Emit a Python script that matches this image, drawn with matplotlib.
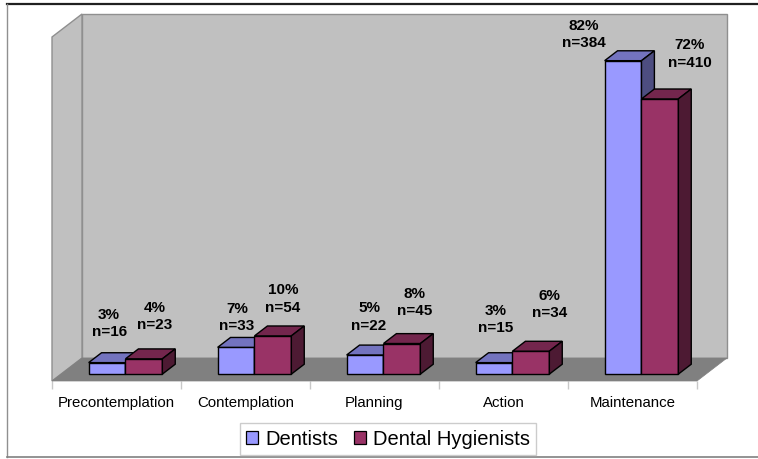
import matplotlib
matplotlib.use('Agg')
import matplotlib.pyplot as plt
from matplotlib.patches import Polygon
from matplotlib.lines import Line2D

# --- data ---
stages = ['Precontemplation', 'Contemplation', 'Planning', 'Action', 'Maintenance']
dentists_pct = [3, 7, 5, 3, 82]
dentists_n = [16, 33, 22, 15, 384]
hygienists_pct = [4, 10, 8, 6, 72]
hygienists_n = [23, 54, 45, 34, 410]

# label nudges in pixels: (right, up from bar top)
dent_nudge = [(2, 40), (1, 31), (4, 39), (2, 44), (-39, 27)]
hyg_nudge = [(11, 43), (10, 38), (13, 42), (19, 48), (30, 46)]

plt.rcParams['font.family'] = ['Liberation Sans', 'DejaVu Sans']

YMAX = 90
DX = 30 / 129.0          # depth shift in category units
DY = 23 / (344.0 / YMAX)  # depth shift in percent units
Z0, Z1 = 0.30, 0.73      # bar depth range (fraction of full depth)
BAR_W = 1 / 3.5          # gap width 150%
GAP = 0.75 * BAR_W

fig = plt.figure(figsize=(7.58, 4.60), dpi=100)
ax = fig.add_axes([52 / 758, 78 / 460, 645 / 758, 344 / 460])
ax.set_xlim(0, len(stages))
ax.set_ylim(0, YMAX)
ax.patch.set_visible(False)
for s in ax.spines.values():
    s.set_visible(False)
ax.yaxis.set_visible(False)

n = len(stages)
wall_kw = dict(closed=True, edgecolor='#8f8f8f', linewidth=1.0, clip_on=False)
# back wall, side wall, floor
ax.add_patch(Polygon([(DX, DY), (n + DX, DY), (n + DX, YMAX + DY), (DX, YMAX + DY)],
                     facecolor='#c0c0c0', zorder=1, **wall_kw))
ax.add_patch(Polygon([(0, 0), (DX, DY), (DX, YMAX + DY), (0, YMAX)],
                     facecolor='#c0c0c0', zorder=1, **wall_kw))
ax.add_patch(Polygon([(0, 0), (n, 0), (n + DX, DY), (DX, DY)],
                     closed=True, facecolor='#808080', edgecolor='#808080',
                     linewidth=0.5, clip_on=False, zorder=2))


def draw_bar(x0, v, front, top, side, z):
    ox0, oy0 = Z0 * DX, Z0 * DY
    ox1, oy1 = Z1 * DX, Z1 * DY
    x1 = x0 + BAR_W
    faces = [
        ([(x0 + ox0, oy0), (x1 + ox0, oy0), (x1 + ox0, v + oy0), (x0 + ox0, v + oy0)], front),
        ([(x0 + ox0, v + oy0), (x1 + ox0, v + oy0), (x1 + ox1, v + oy1), (x0 + ox1, v + oy1)], top),
        ([(x1 + ox0, oy0), (x1 + ox1, oy1), (x1 + ox1, v + oy1), (x1 + ox0, v + oy0)], side),
    ]
    for pts, c in faces:
        ax.add_patch(Polygon(pts, closed=True, facecolor=c, edgecolor='black',
                             linewidth=1.0, joinstyle='miter', clip_on=False, zorder=z))
    return x0 + ox0 + BAR_W / 2, v + oy0


def label(xc, yt, pct, cnt, nudge):
    ax.annotate(f'{pct}%\nn={cnt}', xy=(xc, yt), xytext=nudge,
                textcoords='offset pixels', ha='center', va='center',
                fontsize=11, fontweight='bold', linespacing=1.3,
                annotation_clip=False, zorder=20)


z = 3
for i in range(n):
    xc, yt = draw_bar(i + GAP, dentists_pct[i], '#9999ff', '#7373bf', '#4d4d80', z)
    label(xc, yt, dentists_pct[i], dentists_n[i], dent_nudge[i])
    z += 1
    xc, yt = draw_bar(i + GAP + BAR_W, hygienists_pct[i], '#993366', '#73264d', '#4d1a33', z)
    label(xc, yt, hygienists_pct[i], hygienists_n[i], hyg_nudge[i])
    z += 1

# category axis
ax.set_xticks([i + 0.5 for i in range(n)])
ax.set_xticklabels(stages, fontsize=10.8)
ax.set_xticks(range(n + 1), minor=True)
ax.tick_params(axis='x', which='major', length=0, pad=10)
ax.tick_params(axis='x', which='minor', length=6, width=1, color='#c8c8c8', direction='out')

# legend
handles = [Polygon([(0, 0)], facecolor='#9999ff', edgecolor='black', linewidth=0.9),
           Polygon([(0, 0)], facecolor='#993366', edgecolor='black', linewidth=0.9)]
leg = fig.legend(handles, ['Dentists', 'Dental Hygienists'], loc='center',
                 bbox_to_anchor=(388 / 758, 1 - 440 / 460), ncol=2, fontsize=14.5,
                 frameon=True, fancybox=False, handlelength=0.6, handleheight=0.6,
                 handletextpad=0.35, columnspacing=0.8, borderpad=0.3, borderaxespad=0)
leg.get_frame().set_edgecolor('#c0c0c0')
leg.get_frame().set_linewidth(1.0)

# outer frame
fig.add_artist(Line2D([7 / 758, 1], [1 - 5 / 460, 1 - 5 / 460], color='#202020', lw=1.6))
fig.add_artist(Line2D([7 / 758, 7 / 758], [1 - 5 / 460, 1 - 458 / 460], color='#909090', lw=1.0))
fig.add_artist(Line2D([7 / 758, 1], [1 - 458 / 460, 1 - 458 / 460], color='#808080', lw=1.2))

fig.savefig('out.png', dpi=100)
